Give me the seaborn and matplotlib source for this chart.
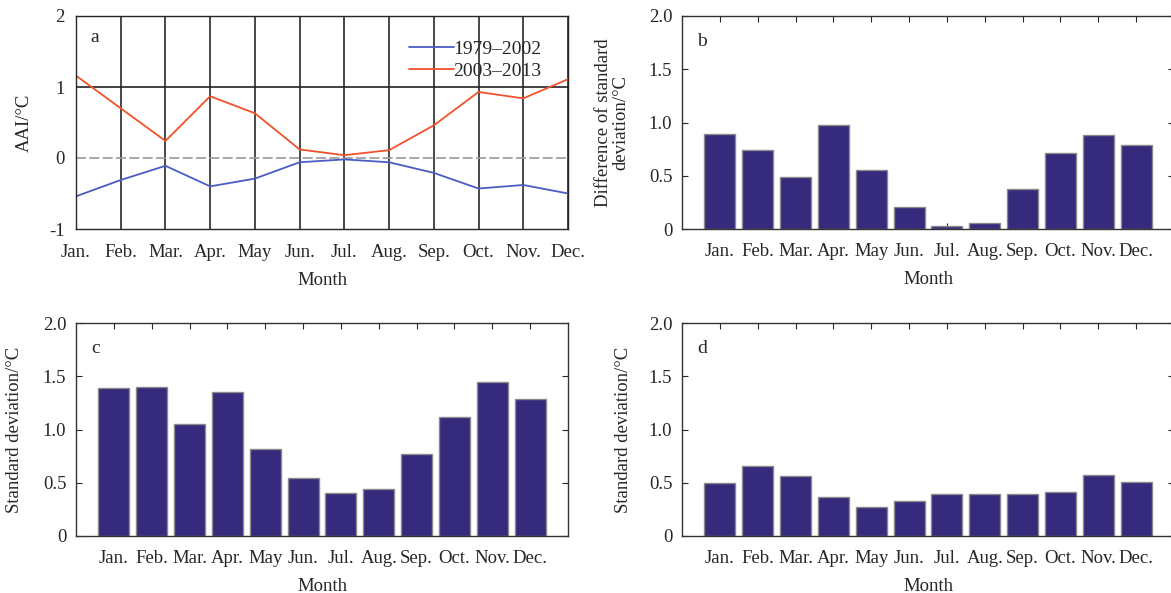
import matplotlib
matplotlib.use("Agg")
import matplotlib.pyplot as plt
import seaborn as sns
import pandas as pd
import numpy as np

months = ["Jan.", "Feb.", "Mar.", "Apr.", "May", "Jun.", "Jul.", "Aug.", "Sep.", "Oct.", "Nov.", "Dec."]
aai_1979_2002 = [-0.54, -0.31, -0.11, -0.40, -0.29, -0.06, -0.02, -0.06, -0.21, -0.43, -0.38, -0.50]
aai_2003_2013 = [1.16, 0.70, 0.24, 0.87, 0.63, 0.12, 0.04, 0.11, 0.46, 0.93, 0.84, 1.11]
diff_std = [0.89, 0.74, 0.49, 0.98, 0.55, 0.21, 0.025, 0.056, 0.38, 0.71, 0.88, 0.79]
std_c = [1.39, 1.40, 1.05, 1.35, 0.82, 0.54, 0.40, 0.44, 0.77, 1.12, 1.45, 1.29]
std_d = [0.50, 0.66, 0.56, 0.37, 0.27, 0.33, 0.39, 0.39, 0.39, 0.41, 0.57, 0.51]
bar_yticks = [0, 0.5, 1.0, 1.5, 2.0]
bar_yticklabels = ["0", "0.5", "1.0", "1.5", "2.0"]
aai_yticks = [-1, 0, 1, 2]
aai_yticklabels = ["-1", "0", "1", "2"]

sns.set_style("ticks")
plt.rcParams["font.family"] = ["Liberation Serif", "DejaVu Serif"]
plt.rcParams["font.size"] = 13.5
plt.rcParams["axes.linewidth"] = 1.0

fig = plt.figure(figsize=(11.71, 5.93), dpi=100)
W = 492 / 1171
H = (229 - 16) / 593
axa = fig.add_axes([76 / 1171, 1 - 229 / 593, W, H])
axb = fig.add_axes([682 / 1171, 1 - 229 / 593, W, H])
axc = fig.add_axes([76 / 1171, 1 - 536 / 593, W, H])
axd = fig.add_axes([682 / 1171, 1 - 536 / 593, W, H])

# Panel a
idx = np.arange(len(months))
dfa = pd.DataFrame({
    "m": np.concatenate([idx, idx]),
    "v": aai_1979_2002 + aai_2003_2013,
    "period": ["1979\u20132002"] * 12 + ["2003\u20132013"] * 12,
})
for x in idx:
    axa.axvline(x, color="#3a3a3a", lw=1.3, zorder=0)
axa.axhline(1, color="#222222", lw=1.2, zorder=0)
axa.axhline(0, color="#9a9a9a", lw=1.2, ls=(0, (6, 2)), zorder=0)
sns.lineplot(data=dfa, x="m", y="v", hue="period",
             palette=["#4a5cc4", "#f2522b"], lw=1.3, ax=axa)
axa.set_xlim(0, 11)
axa.set_ylim(-1, 2)
axa.set_xticks(idx)
axa.set_xticklabels(months)
axa.set_yticks(aai_yticks)
axa.set_yticklabels(aai_yticklabels)
axa.tick_params(direction="in", length=0, pad=11)
axa.tick_params(axis="y", pad=8)
axa.set_xlabel("Month", labelpad=8)
axa.set_ylabel("AAI/\u00b0C", labelpad=12)
leg = axa.legend(loc="upper right", frameon=False, handlelength=2.3,
                 handletextpad=0.0, borderaxespad=0.5, labelspacing=0.25,
                 fontsize=14, bbox_to_anchor=(0.982, 0.97))
axa.text(0.03, 0.88, "a", transform=axa.transAxes, fontsize=14)

def bars(ax, vals, ylabel, letter, labelpad):
    df = pd.DataFrame({"month": months, "v": vals})
    sns.barplot(data=df, x="month", y="v", color="#352a7c", width=0.82,
                edgecolor="#8a8a8a", linewidth=1.0, saturation=1, ax=ax)
    ax.set_xlim(-1, 12)
    ax.set_ylim(0, 2.0)
    ax.set_yticks(bar_yticks)
    ax.set_yticklabels(bar_yticklabels)
    ax.tick_params(direction="in", length=4, top=True, right=True, pad=10)
    ax.tick_params(axis="y", pad=7)
    ax.set_xlabel("Month", labelpad=8)
    ax.set_ylabel(ylabel, labelpad=labelpad, linespacing=1.05)
    ax.text(0.03, 0.86, letter, transform=ax.transAxes, fontsize=14)
    for s in ax.spines.values():
        s.set_color("#333333")

bars(axb, diff_std, "Difference of standard\ndeviation/\u00b0C", "b", 14)
bars(axc, std_c, "Standard deviation/\u00b0C", "c", 14)
bars(axd, std_d, "Standard deviation/\u00b0C", "d", 12)

fig.savefig("out.png", dpi=100)
